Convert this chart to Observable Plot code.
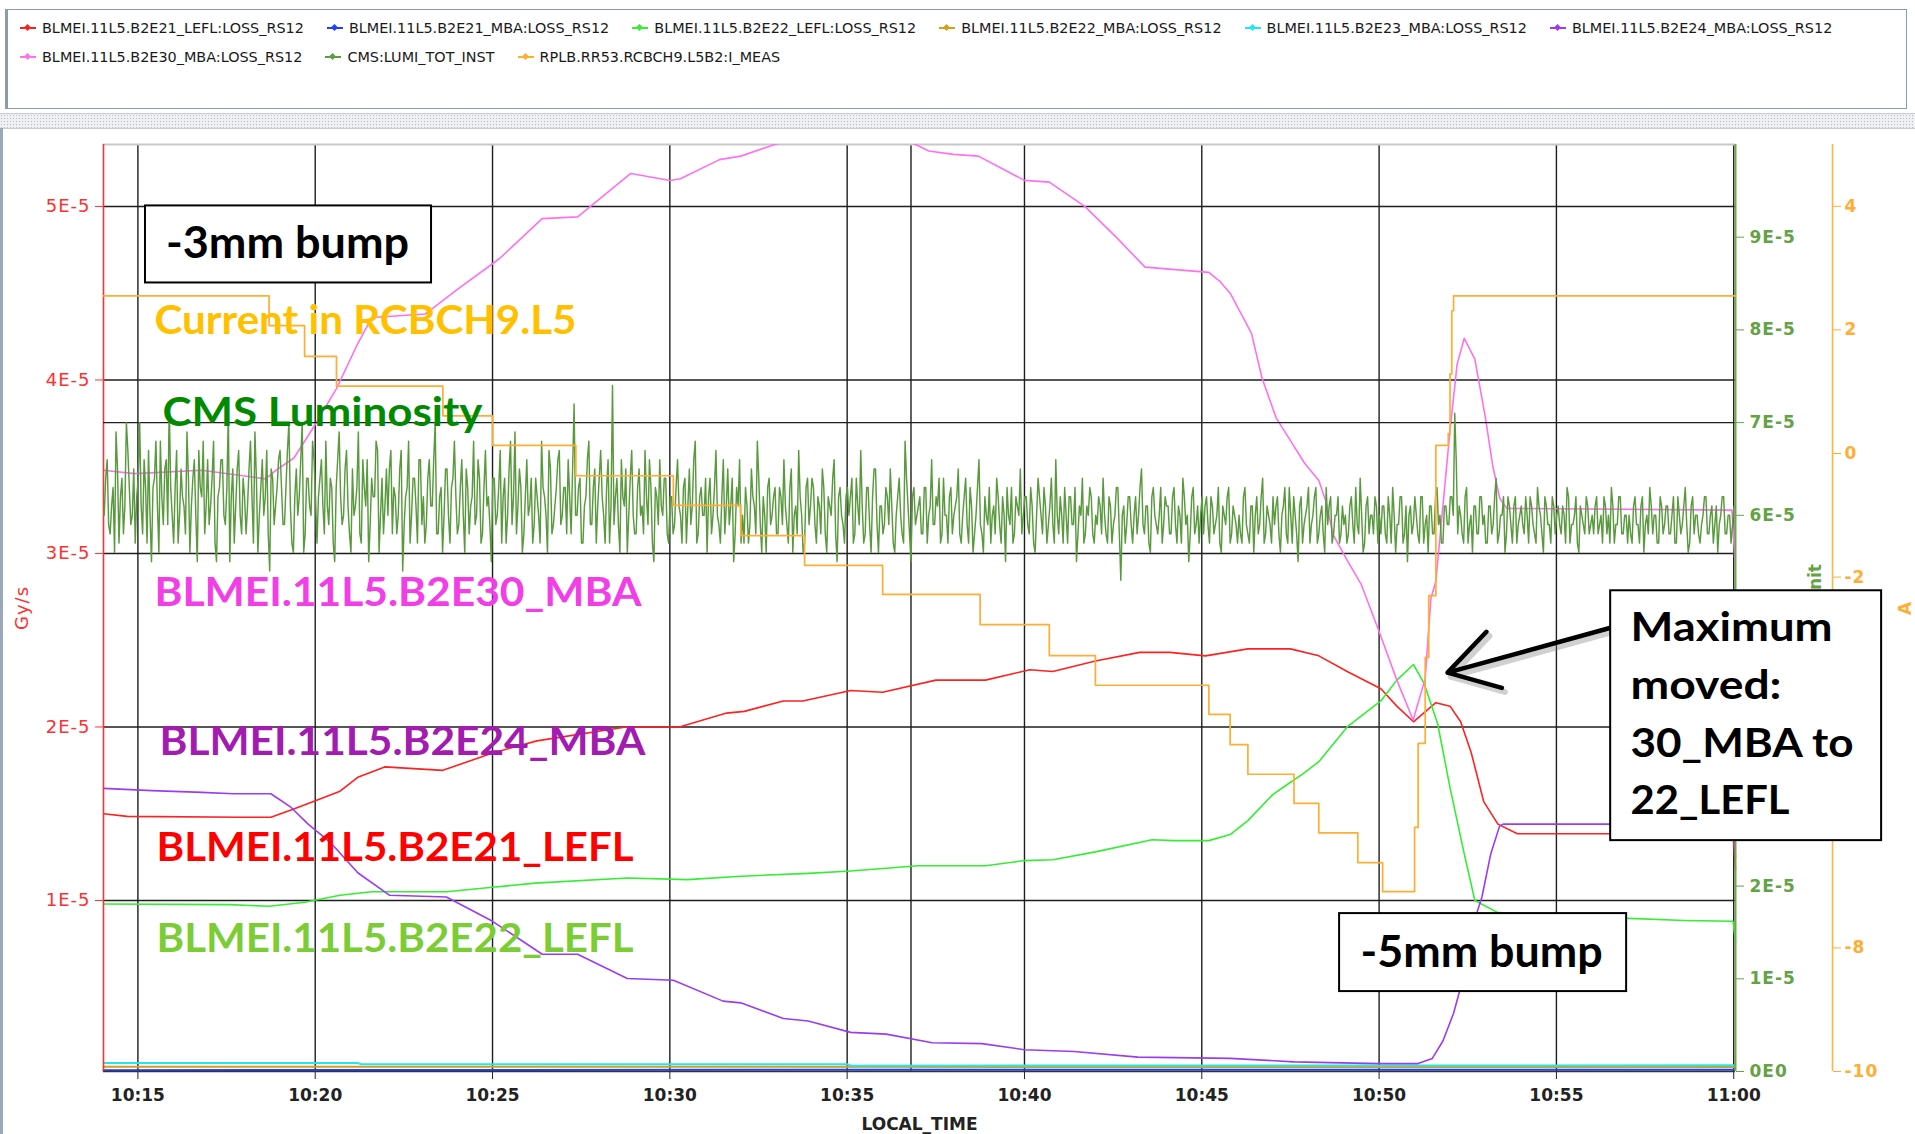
<!DOCTYPE html>
<html><head><meta charset="utf-8">
<script src="https://cdn.jsdelivr.net/npm/d3@7"></script>
<script src="https://cdn.jsdelivr.net/npm/@observablehq/plot@0.6"></script>
<style>
html,body{margin:0;padding:0;background:#fff;}
body{width:1915px;height:1134px;position:relative;overflow:hidden;font-family:"DejaVu Sans",sans-serif;}
#legendBox{position:absolute;left:5px;top:9px;width:1902px;height:100px;border:1px solid #8a9bb0;border-left:3px solid #8a9bb0;background:#fff;box-sizing:border-box;}
.row{position:absolute;left:12px;display:flex;gap:23px;white-space:nowrap;}
.item{display:flex;align-items:center;font-size:14.4px;color:#1a1a1a;height:16px;}
.mk{position:relative;width:16px;height:2px;margin-right:6px;}
.mk i{position:absolute;left:5px;top:-2.5px;width:5px;height:5px;transform:rotate(45deg);background:inherit;}
#splitter{position:absolute;left:0;top:113px;width:1915px;height:14px;background-color:#eef0f3;background-image:radial-gradient(#b4bac3 0.7px, transparent 0.9px);background-size:3px 3px;border-top:1px solid #c5ccd6;border-bottom:1px solid #c5ccd6;}
#edge{position:absolute;left:0;top:128px;width:3px;height:1006px;background:#9aa8ba;}
#panel{position:absolute;left:0;top:130px;width:1915px;height:1004px;}
.pa [aria-label^="x-axis"]{color:#222;}
.pa [aria-label^="x-axis"] text{font:bold 17px "DejaVu Sans";}
.pa [aria-label^="y-axis"]{color:#ff3030;}
.pa [aria-label^="y-axis"] text{font:18px "DejaVu Sans";letter-spacing:1px;}
.pb [aria-label^="y-axis"]{color:#64a246;}
.pb [aria-label^="y-axis"] text{font:bold 17px "DejaVu Sans";letter-spacing:1px;}
.pc [aria-label^="y-axis"]{color:#ffad33;}
.pc [aria-label^="y-axis"] text{font:bold 17px "DejaVu Sans";letter-spacing:1px;}
</style>
</head>
<body>
<div id="legendBox"><div class="row" id="row1" style="top:10px"></div><div class="row" id="row2" style="top:39px"></div></div>
<div id="splitter"></div>
<div id="panel"></div>
<div id="edge"></div>
<script>
// ---------------- DATA ----------------
const xTickMinutes = [15, 20, 25, 30, 35, 40, 45, 50, 55, 60]; // minutes after 10:00
const cursorMinute = [36.8];
const gyTicks = [1e-5, 2e-5, 3e-5, 4e-5, 5e-5];
const lumiTicks = [0, 1e-5, 2e-5, 3e-5, 4e-5, 5e-5, 6e-5, 7e-5, 8e-5, 9e-5];
const lumiMarker = [7e-5];
const ampTicks = [-10, -8, -6, -4, -2, 0, 2, 4];

const legendNames = [
  "BLMEI.11L5.B2E21_LEFL:LOSS_RS12", "BLMEI.11L5.B2E21_MBA:LOSS_RS12", "BLMEI.11L5.B2E22_LEFL:LOSS_RS12",
  "BLMEI.11L5.B2E22_MBA:LOSS_RS12", "BLMEI.11L5.B2E23_MBA:LOSS_RS12", "BLMEI.11L5.B2E24_MBA:LOSS_RS12",
  "BLMEI.11L5.B2E30_MBA:LOSS_RS12", "CMS:LUMI_TOT_INST", "RPLB.RR53.RCBCH9.L5B2:I_MEAS"];
const legendColors = ["#ff2020", "#2040ff", "#33ee33", "#d4a017", "#22e8ee", "#9b3cf0", "#ff70f0", "#5f9d45", "#ffad33"];

// BLM loss series: [minute after 10:00, Gy/s in units of 1E-5]
const b2e21_lefl = [[14.03,1.50],[14.7,1.485],[17.9,1.48],[18.75,1.48],[19.3,1.52],[19.95,1.57],[20.7,1.63],[21.2,1.71],[21.96,1.77],[23.6,1.75],[25.0,1.85],[26.25,1.92],[28.76,2.00],[30.27,2.00],[31.6,2.08],[32.1,2.09],[33.2,2.15],[33.75,2.15],[35.1,2.21],[36.0,2.20],[37.5,2.27],[38.9,2.27],[40.15,2.33],[40.8,2.32],[42.0,2.38],[43.25,2.43],[44.1,2.43],[45.1,2.41],[46.3,2.45],[47.5,2.45],[48.3,2.41],[49.1,2.32],[50.05,2.22],[50.5,2.12],[50.97,2.03],[51.6,2.14],[52.0,2.12],[52.3,2.03],[52.6,1.85],[52.95,1.57],[53.35,1.44],[53.9,1.385],[59.98,1.385],[60.05,1.18]];
const b2e21_mba = [[14.03,0.022],[35.0,0.025],[60.0,0.025]];
const b2e22_lefl = [[14.03,0.98],[17.6,0.976],[18.7,0.967],[19.7,0.99],[20.7,1.03],[21.6,1.05],[23.7,1.05],[25.0,1.076],[26.2,1.10],[28.8,1.13],[30.5,1.12],[32.0,1.14],[33.9,1.156],[35.1,1.17],[37.0,1.20],[38.9,1.20],[40.0,1.23],[40.8,1.235],[42.0,1.28],[43.6,1.35],[44.2,1.345],[45.2,1.345],[45.8,1.38],[46.3,1.46],[47.0,1.61],[47.35,1.66],[47.85,1.73],[48.3,1.80],[49.1,2.00],[50.05,2.15],[50.5,2.27],[50.97,2.36],[51.27,2.25],[51.65,2.02],[52.0,1.65],[52.4,1.27],[52.7,1.00],[53.35,0.93],[56.7,0.90],[58.6,0.885],[59.98,0.88],[60.05,0.76]];
const b2e22_mba = [[14.03,0.042],[60.0,0.040]];
const b2e23_mba = [[14.03,0.063],[21.2,0.063],[21.3,0.056],[35.0,0.056],[35.1,0.048],[60.0,0.050]];
const b2e24_mba = [[14.03,1.646],[15.4,1.633],[16.8,1.623],[17.7,1.615],[18.75,1.615],[19.3,1.54],[19.8,1.44],[20.45,1.33],[21.2,1.16],[22.1,1.03],[23.7,1.02],[25.0,0.88],[26.4,0.69],[27.4,0.69],[28.8,0.55],[30.1,0.54],[31.5,0.42],[32.0,0.41],[33.2,0.32],[33.9,0.305],[35.1,0.24],[36.1,0.23],[37.4,0.18],[38.8,0.175],[40.0,0.14],[41.4,0.13],[43.2,0.097],[45.8,0.09],[47.6,0.07],[50.0,0.06],[51.1,0.06],[51.5,0.09],[51.8,0.19],[52.1,0.35],[52.3,0.50],[52.6,0.83],[52.9,1.02],[53.15,1.27],[53.4,1.43],[53.5,1.44],[59.98,1.44],[60.05,1.25]];
const b2e30_mba = [[14.03,3.48],[14.9,3.46],[16.8,3.48],[18.6,3.43],[18.9,3.48],[19.4,3.55],[19.9,3.71],[20.6,3.95],[21.2,4.21],[21.6,4.36],[23.1,4.38],[24.0,4.52],[25.2,4.70],[26.4,4.93],[27.4,4.94],[28.9,5.19],[30.0,5.15],[30.3,5.16],[31.4,5.27],[32.0,5.29],[33.0,5.36],[34.5,5.45],[35.8,5.45],[36.9,5.36],[37.3,5.32],[38.0,5.30],[38.7,5.29],[40.0,5.15],[40.7,5.14],[41.7,5.00],[42.6,4.82],[43.4,4.65],[45.2,4.62],[45.5,4.57],[45.8,4.50],[46.4,4.27],[46.7,4.01],[47.1,3.78],[47.5,3.65],[47.9,3.52],[48.3,3.42],[48.5,3.30],[48.7,3.11],[49.1,2.96],[49.5,2.82],[50.0,2.55],[50.5,2.27],[50.96,2.04],[51.3,2.28],[51.46,2.74],[51.6,2.84],[52.0,3.71],[52.2,4.09],[52.4,4.24],[52.7,4.12],[53.0,3.78],[53.2,3.51],[53.4,3.32],[53.6,3.26],[59.95,3.25],[60.05,2.9]];

// Corrector current (A): [minute, A], held until next change
const rcbch9 = [[14.03,2.55],[18.7,2.07],[19.7,1.57],[20.6,1.09],[23.6,0.61],[25.0,0.13],[27.35,-0.36],[30.1,-0.84],[32.0,-1.33],[33.8,-1.81],[36.0,-2.28],[38.75,-2.77],[40.7,-3.27],[42.0,-3.75],[45.2,-4.22],[45.8,-4.71],[46.3,-5.19],[47.6,-5.66],[48.3,-6.14],[49.4,-6.62],[50.1,-7.09],[51.0,-6.05],[51.1,-4.69],[51.3,-3.30],[51.4,-2.30],[51.6,0.13],[51.95,0.32],[52.0,1.29],[52.05,2.31],[52.1,2.55],[60.05,2.55]];

// CMS luminosity readings, units of 1E-6, sampled every 2.5 s from 10:14:03;
// lumiValsA = the readings on the 5 s marks, lumiValsB = the readings between them
const lumiStart = 14.05, lumiStep = 1 / 24;
const lumiValsA = [
60,66,58,63,69,57,64,61,67,59,65,62, 70,58,63,67,55,64,61,68,59,66,72,60,
63,57,65,61,69,56,64,60,67,62,58,66, 61,68,55,63,66,59,71,62,57,65,60,64,
58,65,62,69,56,63,60,67,54,64,61,66, 63,59,67,61,56,65,62,70,58,64,60,66,
57,64,61,68,59,63,55,66,62,60,67,58, 65,61,69,57,63,66,59,62,68,56,64,61,
60,67,63,58,65,54,62,68,60,64,57,66, 62,59,66,61,70,58,63,60,65,57,64,62,
59,66,56,63,61,68,60,64,58,67,62,55, 64,60,67,62,57,65,59,69,61,63,58,66,
61,57,64,60,68,62,56,65,59,63,67,60, 63,66,58,72,60,64,57,62,68,59,65,61,
67,60,63,57,74,62,59,66,61,56,64,60, 58,65,61,67,59,63,55,62,66,60,64,57,
62,59,66,60,63,57,65,61,68,58,63,60, 56,64,60,67,59,62,58,65,61,55,63,66,
60,63,57,65,61,68,59,62,56,64,60,63, 58,62,66,59,63,56,61,67,60,57,64,61,
63,57,61,65,58,62,60,66,55,63,59,62, 60,64,58,61,67,57,63,59,62,65,56,61,
59,62,65,57,60,64,58,68,61,55,63,60, 62,58,63,60,66,59,61,57,64,60,62,58,
61,65,57,62,59,63,56,60,66,58,62,59, 57,61,64,59,62,55,60,63,58,61,65,60,
62,58,61,56,64,60,63,57,61,59,66,58, 60,63,57,62,59,55,61,64,58,60,62,57,
59,61,64,58,62,57,60,63,53,61,59,62, 57,62,60,65,58,61,56,63,59,60,57,62,
61,58,63,57,60,64,59,55,62,58,61,60, 58,62,57,61,59,63,56,60,62,57,61,59,
60,57,63,58,61,56,62,59,64,58,60,57, 59,62,56,61,58,63,57,60,55,62,59,61,
57,60,63,58,61,56,59,62,58,60,57,61, 60,58,62,57,59,64,56,61,58,60,62,57,
58,61,57,60,63,56,59,62,58,55,61,59, 60,57,62,59,56,61,58,63,60,57,61,59,
62,71,58,60,57,63,59,56,61,58,62,60, 57,61,59,64,58,60,56,62,59,61,57,60,
59,62,57,61,58,63,60,56,61,59,62,58, 61,58,60,63,57,59,62,56,60,58,61,59,
58,62,59,57,61,60,63,57,59,62,58,60, 60,57,62,59,61,56,60,63,58,60,57,61,
59,61,58,62,57,60,59,63,56,61,58,60, 57,60,62,58,61,59,56,60,62,58,60,59];
const lumiValsB = [
64,59,61,56,65,62,58,70,63,60,57,64, 61,66,57,60,63,68,56,62,65,59,63,57,
67,60,62,58,64,61,66,55,63,68,61,59, 64,57,62,66,60,63,55,65,61,67,58,62,
61,68,57,64,60,66,62,58,65,59,63,67, 59,63,70,57,62,60,66,56,64,61,68,62,
62,66,58,61,64,57,63,69,59,65,61,56, 60,63,58,66,61,55,64,62,67,60,58,65,
65,58,62,60,67,59,63,57,64,61,66,59, 57,64,61,66,58,62,56,65,60,63,68,58,
63,60,65,58,62,59,66,57,63,61,59,64, 59,63,57,64,60,68,62,58,65,56,62,60,
64,59,62,57,63,60,67,58,61,66,59,63, 58,62,65,60,63,57,61,66,59,63,57,64,
62,57,66,61,59,64,56,62,65,60,67,58, 63,60,58,62,66,57,63,59,61,64,58,62,
58,63,61,57,64,61,59,66,57,62,60,64, 62,58,63,60,57,66,61,59,64,58,61,57,
57,61,59,62,58,64,56,60,63,59,62,58, 63,59,61,57,65,60,58,62,56,63,59,64,
59,62,58,63,56,61,64,58,62,60,57,63, 62,57,64,59,61,58,63,56,65,59,61,58,
63,59,61,56,62,60,57,64,58,62,59,61, 58,63,57,61,59,62,64,58,60,57,63,60,
62,58,60,64,57,61,58,63,59,56,60,63, 60,58,62,57,60,63,59,57,62,60,58,62,
59,63,57,60,62,58,61,59,64,57,60,62, 57,60,62,59,63,58,60,57,61,63,58,60,
62,58,60,57,61,59,63,58,60,57,62,59, 60,58,63,59,61,57,62,60,58,63,59,61,
58,62,59,61,57,62,60,58,63,59,57,62, 61,59,62,58,60,57,61,59,63,58,60,57,
58,62,59,57,61,60,58,62,57,61,59,62, 61,58,60,63,57,60,62,58,61,57,60,63,
59,62,57,60,58,63,61,57,60,62,58,59, 57,61,59,63,58,60,57,62,60,58,61,60,
61,58,62,57,60,59,62,57,61,60,58,62, 58,62,57,60,61,58,62,59,57,61,59,62,
60,66,61,58,62,57,60,61,58,62,59,57, 61,58,62,57,60,62,58,61,57,62,59,61,
58,60,62,59,57,61,58,62,59,57,61,60, 59,61,57,62,59,60,57,61,59,62,58,60,
61,58,60,62,58,57,61,59,62,58,60,57, 58,61,59,57,62,59,58,61,60,57,62,58,
61,58,60,57,62,58,61,59,57,62,60,58, 59,62,58,60,57,61,59,62,58,60,57,61];

// ---------------- LEGEND ----------------
[[0,6,"row1"],[6,9,"row2"]].forEach(([a,b,id]) => {
  const row = document.getElementById(id);
  for (let i = a; i < b; i++) {
    const it = document.createElement("div"); it.className = "item";
    const mk = document.createElement("span"); mk.className = "mk"; mk.style.background = legendColors[i];
    mk.appendChild(document.createElement("i"));
    it.appendChild(mk); it.appendChild(document.createTextNode(legendNames[i]));
    row.appendChild(it);
  }
});

// ---------------- CHART ----------------
const W = 1915, H = 1004, ML = 103, MT = 14, MB = 63, MR = 180, MR_AMP = 83;
const T0 = 14.03, T1 = 60.05;
const T2 = T0 + (T1 - T0) * (W - MR_AMP - ML) / (W - MR - ML);
const Y0 = 0.0144e-5, Y1 = 5.357e-5;
const GRID = "#1e1e1e";
const sci = d => { if (d === 0) return "0E0"; const e = Math.floor(Math.log10(Math.abs(d)) + 1e-9); return `${Math.round(d / 10 ** e)}E${e}`; };
const hm = m => `${10 + Math.floor(m / 60)}:${String(m % 60).padStart(2, "0")}`;
const gy = arr => arr.map(([t, v]) => ({t, v: v * 1e-5}));
const lumi = lumiValsA.flatMap((a, i) => [
  {t: lumiStart + 2 * i * lumiStep, v: a * 1e-6},
  {t: lumiStart + (2 * i + 1) * lumiStep, v: lumiValsB[i] * 1e-6}
]);
const amps = rcbch9.map(([t, v]) => ({t, v}));

const panel = document.getElementById("panel");
function add(svg) { svg.style.position = "absolute"; svg.style.left = "0px"; svg.style.top = "0px"; panel.appendChild(svg); return svg; }
const base = {width: W, height: H, marginLeft: ML, marginTop: MT, marginBottom: MB};
const blmLine = (arr, color, extra = {}) => Plot.line(gy(arr), {x: "t", y: "v", stroke: color, strokeWidth: 1.6, ...extra});

add(Plot.plot({
  ...base, className: "pa", marginRight: MR,
  style: {background: "white", fontFamily: "DejaVu Sans", fontSize: "17px", overflow: "visible"},
  x: {domain: [T0, T1], ticks: xTickMinutes, tickFormat: hm, tickSize: 8, tickPadding: 9, label: "LOCAL_TIME", labelAnchor: "center", labelOffset: 58, labelArrow: false},
  y: {domain: [Y0, Y1], ticks: gyTicks, tickFormat: sci, tickSize: 8, tickPadding: 5, label: "Gy/s", labelAnchor: "center", labelOffset: 88, labelArrow: false},
  marks: [
    Plot.ruleX([...xTickMinutes, ...cursorMinute], {stroke: GRID, strokeWidth: 1.4}),
    Plot.ruleY(gyTicks, {stroke: GRID, strokeWidth: 1.4}),
    Plot.ruleY([Y1], {stroke: "#c8c8c8", strokeWidth: 2}),
    blmLine(b2e21_mba, legendColors[1], {strokeWidth: 2}),
    blmLine(b2e22_mba, legendColors[3], {strokeWidth: 2}),
    blmLine(b2e23_mba, legendColors[4], {strokeWidth: 2}),
    blmLine(b2e21_lefl, legendColors[0]),
    blmLine(b2e22_lefl, legendColors[2]),
    blmLine(b2e24_mba, legendColors[5]),
    blmLine(b2e30_mba, legendColors[6], {clip: true}),
    Plot.ruleX([T0], {stroke: "#ff3030", strokeWidth: 1.6}),
    Plot.ruleY([Y0], {stroke: "#333", strokeWidth: 1.5})
  ]
}));

add(Plot.plot({
  ...base, className: "pb", marginRight: MR,
  style: {background: "transparent", fontFamily: "DejaVu Sans", fontSize: "17px", overflow: "visible"},
  x: {domain: [T0, T1], axis: null},
  y: {domain: [0, 1e-4], axis: "right", ticks: lumiTicks, tickFormat: sci, tickSize: 8, tickPadding: 6, label: null},
  marks: [
    Plot.ruleY(lumiMarker, {stroke: GRID, strokeWidth: 1.4}),
    Plot.line(lumi, {x: "t", y: "v", stroke: "#5a9a3e", strokeWidth: 1.45}),
    Plot.ruleX([T1], {stroke: "#6aa84f", strokeWidth: 2}),
    Plot.text(["Unit"], {frameAnchor: "right", dx: 80, dy: -44, rotate: -90, fill: "#64a246", fontWeight: "bold", fontSize: 17, fontFamily: "DejaVu Sans"})
  ]
}));

add(Plot.plot({
  ...base, className: "pc", marginRight: MR_AMP,
  style: {background: "transparent", fontFamily: "DejaVu Sans", fontSize: "17px", overflow: "visible"},
  x: {domain: [T0, T2], axis: null},
  y: {domain: [-10, 5], axis: "right", ticks: ampTicks, tickFormat: d => String(d), tickSize: 8, tickPadding: 4, label: "A", labelAnchor: "center", labelOffset: 78, labelArrow: false},
  marks: [
    Plot.line(amps, {x: "t", y: "v", curve: "step-after", stroke: legendColors[8], strokeWidth: 1.7}),
    Plot.ruleX([T2], {stroke: "#ffb347", strokeWidth: 1.6})
  ]
}));

// annotations, placed in the main chart's coordinates (minutes, Gy/s)
const annoLabels = [
  {text: "Current in RCBCH9.L5", t: 15.468, v: 4.343, color: "#ffc000", anchor: "start", w: 422, size: 41},
  {text: "CMS Luminosity", t: 15.694, v: 3.813, color: "#008a00", anchor: "start", w: 320, size: 41},
  {text: "BLMEI.11L5.B2E30_MBA", t: 15.468, v: 2.771, color: "#f23ee6", anchor: "start", w: 487, size: 41},
  {text: "BLMEI.11L5.B2E24_MBA", t: 15.609, v: 1.912, color: "#a21caf", anchor: "start", w: 486, size: 41},
  {text: "BLMEI.11L5.B2E21_LEFL", t: 15.525, v: 1.302, color: "#ff0000", anchor: "start", w: 477, size: 41},
  {text: "BLMEI.11L5.B2E22_LEFL", t: 15.525, v: 0.781, color: "#7ccc36", anchor: "start", w: 477, size: 41},
  {text: "-3mm bump", t: 19.22, v: 4.784, color: "#000", anchor: "middle", w: 243, size: 43},
  {text: "-5mm bump", t: 52.89, v: 0.697, color: "#000", anchor: "middle", w: 242, size: 43},
  {text: "Maximum", t: 57.09, v: 2.570, color: "#000", anchor: "start", w: 202, size: 41},
  {text: "moved:", t: 57.09, v: 2.236, color: "#000", anchor: "start", w: 151, size: 41},
  {text: "30_MBA to", t: 57.09, v: 1.902, color: "#000", anchor: "start", w: 223, size: 41},
  {text: "22_LEFL", t: 57.09, v: 1.574, color: "#000", anchor: "start", w: 159, size: 41}
];
const annoBoxes = [
  {t1: 15.214, t2: 23.28, v1: 4.559, v2: 5.003},
  {t1: 48.886, t2: 56.98, v1: 0.475, v2: 0.9245},
  {t1: 56.53, t2: 64.17, v1: 1.345, v2: 2.785}
].map(d => ({...d, v1: d.v1 * 1e-5, v2: d.v2 * 1e-5}));
const annoArrow = [{t1: 56.53, v1: 2.572e-5, t2: 51.93, v2: 2.313e-5}];

const svgD = add(Plot.plot({
  ...base, className: "pd", marginRight: MR,
  style: {background: "transparent", overflow: "visible"},
  x: {domain: [T0, T1], axis: null},
  y: {domain: [Y0, Y1], axis: null},
  marks: [
    Plot.arrow(annoArrow, {x1: "t1", y1: "v1", x2: "t2", y2: "v2", stroke: "#777", strokeOpacity: 0.35, strokeWidth: 6, headLength: 24, headAngle: 62, dx: 3, dy: 4}),
    Plot.arrow(annoArrow, {x1: "t1", y1: "v1", x2: "t2", y2: "v2", stroke: "#000", strokeWidth: 4.5, headLength: 24, headAngle: 62}),
    Plot.rect(annoBoxes, {x1: "t1", x2: "t2", y1: "v1", y2: "v2", fill: "white", stroke: "#000", strokeWidth: 2}),
    ...annoLabels.map(d => Plot.text([d], {x: "t", y: a => a.v * 1e-5, text: "text", fill: d.color, textAnchor: d.anchor, fontFamily: "Lato", fontWeight: "bold", fontSize: d.size}))
  ]
}));
const widthByText = new Map(annoLabels.map(d => [d.text, d.w]));
svgD.querySelectorAll("text").forEach(el => {
  const w = widthByText.get(el.textContent);
  if (w) { el.setAttribute("textLength", w); el.setAttribute("lengthAdjust", "spacingAndGlyphs"); }
});
</script>
</body></html>
